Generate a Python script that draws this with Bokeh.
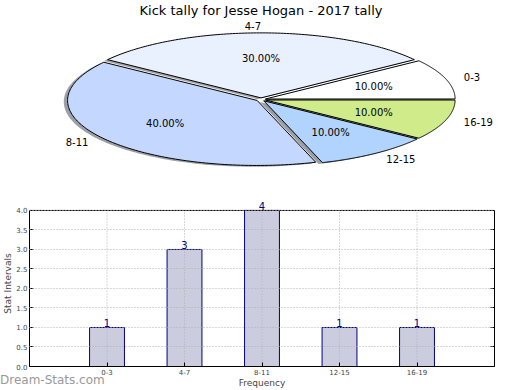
import numpy as np
from bokeh.plotting import figure
from bokeh.models import (Range1d, Label, LabelSet, ColumnDataSource, FactorRange,
                          LinearAxis, FixedTicker, NumeralTickFormatter, Span, Div)
from bokeh.layouts import column
from bokeh.embed import file_html
from bokeh.resources import INLINE
from bokeh.core.properties import value

# ---------------- data ----------------
title_text = "Kick tally for Jesse Hogan - 2017 tally"
categories = ["0-3", "4-7", "8-11", "12-15", "16-19"]
counts = [1, 3, 4, 1, 1]
slice_colors = ["#ffffff", "#eaf1fe", "#c4d7fe", "#b0d4fe", "#cfeb8a"]
y_ticks = [0.0, 0.5, 1.0, 1.5, 2.0, 2.5, 3.0, 3.5, 4.0]
x_label = "Frequency"
y_label = "Stat Intervals"
watermark = "Dream-Stats.com"

FONT = "DejaVu Sans"

# shared frame borders (both figures get the same frame horizontally)
BL, BR = 28, 18
W = 512

# ---------------- pie (tilted) ----------------
A, B = 190.0, 65.0          # ellipse semi-axes in px
CX, CY = 260, 99            # pie centre in page px
explode = 0.025
shadow_dx, shadow_dy = -3.8, -1.3
H1 = 200

p1 = figure(width=W, height=H1, x_range=Range1d(BL - CX, W - BR - CX),
            y_range=Range1d(CY - H1, CY),
            output_backend="svg", toolbar_location=None, x_axis_type=None, y_axis_type=None,
            min_border_left=BL, min_border_right=BR, min_border_top=0, min_border_bottom=0)
p1.grid.visible = False
p1.outline_line_color = None

total = float(sum(counts))
fracs = [c / total for c in counts]
xs, ys, sxs, sys_, shadow_cols = [], [], [], [], []
lab_x, lab_y, lab_align, pct_x, pct_y, pct_txt = [], [], [], [], [], []
start = 0.0
for f, col in zip(fracs, slice_colors):
    t1, t2 = 2 * np.pi * start, 2 * np.pi * (start + f)
    mid = 0.5 * (t1 + t2)
    dx, dy = explode * A * np.cos(mid), explode * B * np.sin(mid)
    t = np.linspace(t1, t2, 120)
    px = [dx] + list(dx + A * np.cos(t)) + [dx]
    py = [dy] + list(dy + B * np.sin(t)) + [dy]
    xs.append(px)
    ys.append(py)
    sxs.append([v + shadow_dx for v in px])
    sys_.append([v + shadow_dy for v in py])
    r, g, b = int(col[1:3], 16), int(col[3:5], 16), int(col[5:7], 16)
    shadow_cols.append("#%02x%02x%02x" % (int(r * 0.3), int(g * 0.3), int(b * 0.3)))
    lab_x.append(dx + 1.1 * A * np.cos(mid))
    lab_y.append(dy + 1.1 * B * np.sin(mid))
    lab_align.append("left" if np.cos(mid) > 0.01 else "right")
    pct_x.append(dx + 0.6 * A * np.cos(mid))
    pct_y.append(dy + 0.6 * B * np.sin(mid))
    pct_txt.append("%.2f%%" % (f * 100))
    start += f

p1.patches(sxs, sys_, fill_color=shadow_cols, fill_alpha=0.5, line_color=None)
p1.patches(xs, ys, fill_color=slice_colors, line_color="black", line_width=1)

lab_src = ColumnDataSource(dict(x=lab_x, y=lab_y, text=categories, align=lab_align))
p1.add_layout(LabelSet(x="x", y="y", text="text", text_align="align", source=lab_src,
                       text_baseline="middle", text_font_size=value("10px"),
                       text_font=value(FONT), text_color="black"))
pct_src = ColumnDataSource(dict(x=pct_x, y=pct_y, text=pct_txt))
p1.add_layout(LabelSet(x="x", y="y", text="text", source=pct_src, text_align="center",
                       text_baseline="middle", text_font_size=value("10px"),
                       text_font=value(FONT), text_color="black"))

p1.add_layout(Label(x=0, y=CY - 10, text=title_text, text_align="center", text_baseline="middle",
                    text_font=FONT, text_font_size="13px", text_color="black"))

# ---------------- bar chart ----------------
# the frame reaches 10px above the 4.0 line so the top value label stays visible;
# the visible box is drawn by the axes (bounded to the tick span) and a Span at 4.0
H2, BB, TOPPAD = 190, 23, 10
frame_h = H2 - BB
y_top = y_ticks[-1]
y_end = y_top * frame_h / (frame_h - TOPPAD)

p2 = figure(width=W, height=H2,
            x_range=FactorRange(factors=categories, range_padding=0.5, range_padding_units="absolute"),
            y_range=Range1d(0, y_end), output_backend="svg", toolbar_location=None,
            min_border_top=0, min_border_right=BR, min_border_left=BL, min_border_bottom=BB)
p2.outline_line_color = None

bar_src = ColumnDataSource(dict(cat=categories, count=counts,
                                y0=[0.0] * len(categories), y1=[y_top] * len(categories)))
p2.vbar(x="cat", top="count", width=0.45, source=bar_src, fill_color="#ccccdf",
        line_color="#000080", line_width=1)

# grid drawn over the bars, as in the reference
p2.xgrid.visible = False
p2.segment(x0="cat", y0="y0", x1="cat", y1="y1", source=bar_src,
           line_color="#b0b0b0", line_dash="1 2", line_width=1)
p2.ygrid.ticker = FixedTicker(ticks=y_ticks)
p2.ygrid.grid_line_color = "#b0b0b0"
p2.ygrid.grid_line_dash = "1 2"
p2.ygrid.level = "overlay"

p2.add_layout(Span(location=y_top, dimension="width", line_color="black", line_width=1))

# value labels; a factor's synthetic coordinate is its index + 0.5
for i, cnt in enumerate(counts):
    p2.add_layout(Label(x=i + 0.5, y=cnt, text=str(cnt), text_align="center",
                        text_baseline="bottom", text_color="#000080", text_font_size="10px",
                        text_font=FONT))

ya = p2.yaxis[0]
ya.ticker = FixedTicker(ticks=y_ticks)
ya.formatter = NumeralTickFormatter(format="0.0")
ya.bounds = (y_ticks[0], y_top)
xa = p2.xaxis[0]
for ax in (xa, ya):
    ax.major_tick_in = 4
    ax.major_tick_out = 0
    ax.minor_tick_in = 0
    ax.minor_tick_out = 0
    ax.axis_line_color = "black"
    ax.major_label_text_font = FONT
    ax.major_label_text_font_size = "7px"
    ax.major_label_standoff = 2
    ax.axis_label_text_font = FONT
    ax.axis_label_text_font_size = "9px"
    ax.axis_label_text_font_style = "normal"
    ax.axis_label_standoff = 0
xa.axis_label = x_label
ya.axis_label = y_label

ra = LinearAxis(ticker=FixedTicker(ticks=y_ticks), major_label_text_font_size="0px",
                major_tick_in=4, major_tick_out=0, minor_tick_in=0, minor_tick_out=0,
                axis_line_color="black", major_label_standoff=0, bounds=(y_ticks[0], y_top))
p2.add_layout(ra, "right")

# watermark overlapping the bottom-left corner of the bar chart
wm = Div(text=watermark, width=110, height=14, margin=(-17, 0, 0, 0),
         styles={"color": "#999999", "font-family": FONT, "font-size": "12px",
                 "line-height": "14px", "white-space": "nowrap",
                 "position": "relative", "z-index": "10"})

layout = column(p1, p2, wm, spacing=0)
open("out.html", "w").write(file_html(layout, INLINE))
